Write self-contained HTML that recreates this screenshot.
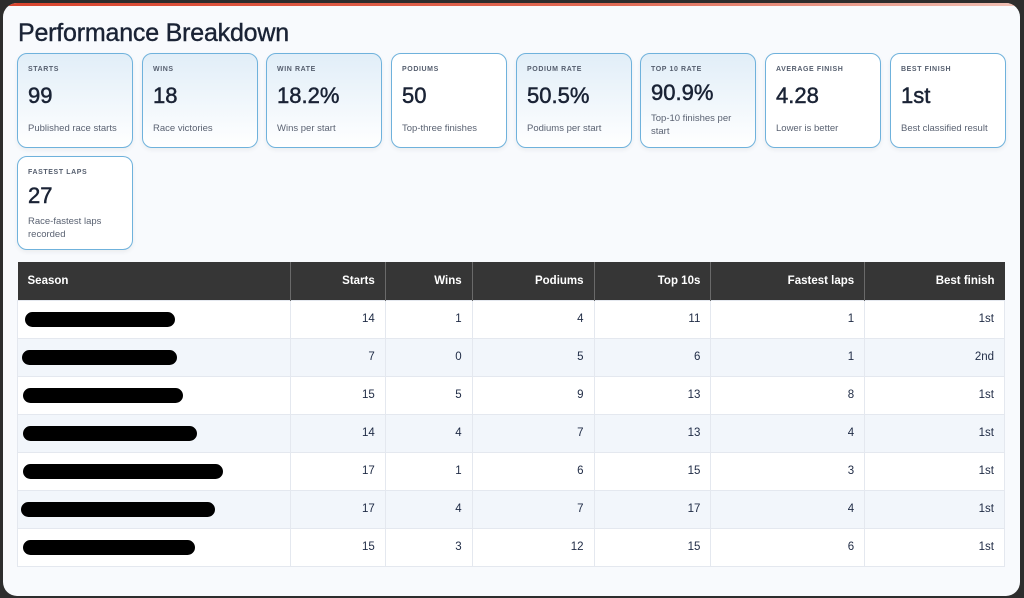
<!DOCTYPE html>
<html><head><meta charset="utf-8"><style>
*{box-sizing:border-box;margin:0;padding:0}
body{width:1024px;height:598px;background:#2d2d2d;font-family:"Liberation Sans",sans-serif;position:relative;overflow:hidden}
.panel{position:absolute;left:3px;top:3px;width:1017px;height:593px;background:#f8fafd;border-radius:14px;overflow:hidden}
.topbar{position:absolute;left:0;top:0;width:100%;height:3px;background:linear-gradient(90deg,#d9452f,#e06a55 60%,#f0c0b5)}
h1{position:absolute;left:15px;top:16px;font-size:25px;font-weight:normal;color:#1a2335;letter-spacing:-0.2px;-webkit-text-stroke:0.4px #1a2335}
.card{position:absolute;width:116px;height:95px;border:1px solid #6fb2dc;border-radius:10px;background:#fff;padding:12px 10px;box-shadow:0 2px 5px rgba(0,0,0,.06)}
.card.tint{background:linear-gradient(#e1eef8,#fff)}
.lbl{font-size:7px;font-weight:bold;color:#555e6e;letter-spacing:.6px}
.val{font-size:22px;color:#1a2335;margin-top:10px;height:28px;-webkit-text-stroke:0.5px #1a2335}
.sub{font-size:9.5px;color:#5a6272;margin-top:11px;line-height:13px}
table{position:absolute;left:14px;top:259px;width:988px;border-collapse:collapse;font-size:11.5px}
th{background:#363636;color:#fff;height:38px;text-align:right;padding:0 10px;font-size:11.5px;border-left:1px solid #6a6a6a}
th:first-child{text-align:left;border-left:none}
td{height:38px;text-align:right;padding:0 10px;color:#1e2a44;border:1px solid #e4e8ef;background:#fff}
tr:nth-child(odd) td{background:#f2f6fb}
.red{display:inline-block;height:15px;background:#000;border-radius:8px;vertical-align:middle}
</style></head><body>
<div class="panel">
<div class="topbar"></div>
<h1>Performance Breakdown</h1>
<div class="card tint" style="left:14px;top:50px"><div class="lbl">STARTS</div><div class="val">99</div><div class="sub">Published race starts</div></div>
<div class="card tint" style="left:139px;top:50px"><div class="lbl">WINS</div><div class="val">18</div><div class="sub">Race victories</div></div>
<div class="card tint" style="left:263px;top:50px"><div class="lbl">WIN RATE</div><div class="val">18.2%</div><div class="sub">Wins per start</div></div>
<div class="card" style="left:388px;top:50px"><div class="lbl">PODIUMS</div><div class="val">50</div><div class="sub">Top-three finishes</div></div>
<div class="card tint" style="left:513px;top:50px"><div class="lbl">PODIUM RATE</div><div class="val">50.5%</div><div class="sub">Podiums per start</div></div>
<div class="card tint" style="left:637px;top:50px"><div class="lbl">TOP 10 RATE</div><div class="val" style="margin-top:7px">90.9%</div><div class="sub" style="margin-top:4px">Top-10 finishes per start</div></div>
<div class="card" style="left:762px;top:50px"><div class="lbl">AVERAGE FINISH</div><div class="val">4.28</div><div class="sub">Lower is better</div></div>
<div class="card" style="left:887px;top:50px"><div class="lbl">BEST FINISH</div><div class="val">1st</div><div class="sub">Best classified result</div></div>
<div class="card" style="left:14px;top:153px;height:94px"><div class="lbl">FASTEST LAPS</div><div class="val" style="margin-top:7px">27</div><div class="sub" style="margin-top:4px">Race-fastest laps recorded</div></div>
<table>
<colgroup><col style="width:273px"><col style="width:95px"><col style="width:87px"><col style="width:122px"><col style="width:117px"><col style="width:154px"><col style="width:140px"></colgroup>
<tr><th>Season</th><th>Starts</th><th>Wins</th><th>Podiums</th><th>Top 10s</th><th>Fastest laps</th><th>Best finish</th></tr>
<tr><td style="text-align:left;padding-left:7px"><span class="red" style="width:150px"></span></td><td>14</td><td>1</td><td>4</td><td>11</td><td>1</td><td>1st</td></tr>
<tr><td style="text-align:left;padding-left:4px"><span class="red" style="width:155px"></span></td><td>7</td><td>0</td><td>5</td><td>6</td><td>1</td><td>2nd</td></tr>
<tr><td style="text-align:left;padding-left:5px"><span class="red" style="width:160px"></span></td><td>15</td><td>5</td><td>9</td><td>13</td><td>8</td><td>1st</td></tr>
<tr><td style="text-align:left;padding-left:5px"><span class="red" style="width:174px"></span></td><td>14</td><td>4</td><td>7</td><td>13</td><td>4</td><td>1st</td></tr>
<tr><td style="text-align:left;padding-left:5px"><span class="red" style="width:200px"></span></td><td>17</td><td>1</td><td>6</td><td>15</td><td>3</td><td>1st</td></tr>
<tr><td style="text-align:left;padding-left:3px"><span class="red" style="width:194px"></span></td><td>17</td><td>4</td><td>7</td><td>17</td><td>4</td><td>1st</td></tr>
<tr><td style="text-align:left;padding-left:5px"><span class="red" style="width:172px"></span></td><td>15</td><td>3</td><td>12</td><td>15</td><td>6</td><td>1st</td></tr>
</table>
</div>
</body></html>
